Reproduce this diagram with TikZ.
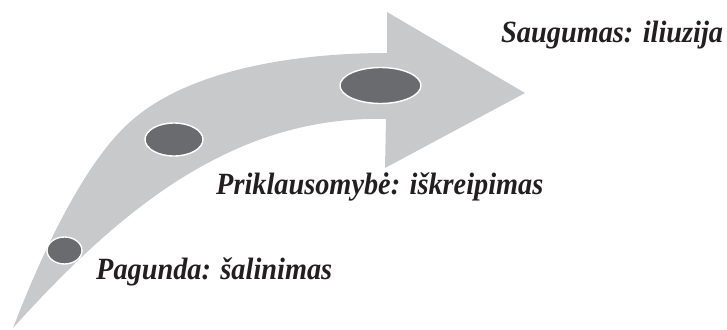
\documentclass[tikz,border=0pt]{standalone}
\usepackage{fontspec}
\setmainfont{Liberation Serif}
\usetikzlibrary{shapes.geometric}
\definecolor{bandgray}{RGB}{200,201,203}
\definecolor{dotgray}{RGB}{106,107,111}
\definecolor{txt}{RGB}{35,31,32}
\newcommand{\tallx}[1]{\scalebox{0.99}[1.08]{#1}}
\begin{document}
\begin{tikzpicture}[x=1pt,y=-1pt,
  dot/.style={ellipse, fill=dotgray, draw=white, line width=1.4pt, inner sep=0pt},
  lbl/.style={anchor=base west, inner sep=0pt, text=txt, font=\fontsize{28.6}{32}\selectfont\bfseries\itshape}]
\useasboundingbox (0,0) rectangle (727,329);
\fill[bandgray] (13,328) .. controls (43,250) and (85,162) .. (130,122)
  .. controls (190,68) and (300,53) .. (387,53)
  -- (387,12) -- (525,93) -- (385,168) -- (386,119)
  .. controls (230,115) and (115,215) .. (13,328) -- cycle;
\node[dot, minimum width=35pt, minimum height=27pt] (d1) at (64.5,250.5) {};
\node[dot, minimum width=58pt, minimum height=33pt] (d2) at (174,139.5) {};
\node[dot, minimum width=81pt, minimum height=36pt] (d3) at (380.5,85.5) {};
\node[lbl] (t3) at (501,43) {\tallx{Saugumas: iliuzija}};
\node[lbl] (t2) at (216,194) {\tallx{Priklausomybė: iškreipimas}};
\node[lbl] (t1) at (96,279) {\tallx{Pagunda: šalinimas}};
\end{tikzpicture}
\end{document}
